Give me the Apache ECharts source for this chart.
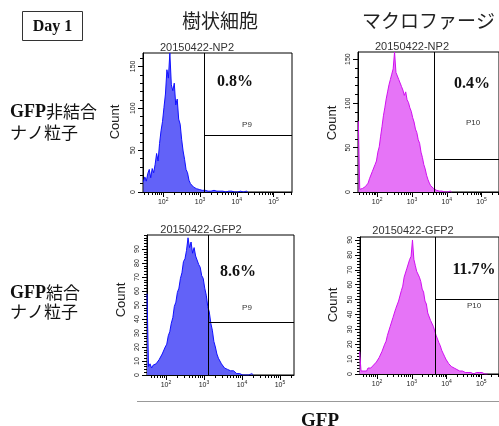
<!DOCTYPE html>
<html>
<head>
<meta charset="utf-8">
<script src="https://cdn.jsdelivr.net/npm/echarts@6/dist/echarts.min.js"></script>
<style>
  html, body { margin: 0; padding: 0; background: #fff; }
  #chart { width: 499px; height: 426px; }
</style>
</head>
<body>
<div id="chart"></div>
<script>
// histogram bins are in log10(GFP) units
const binStep = 0.04
const decades = [2, 3, 4, 5]

const dcNpStart = 1.46
const dcNpCounts = [12, 18, 13, 22, 27, 17, 28, 23, 33, 46, 37, 58, 73, 84, 101, 117, 146, 136, 166, 128,
  121, 130, 104, 111, 87, 81, 63, 49, 39, 27, 23, 14, 10, 8, 6, 5, 4, 4, 3, 3,
  2, 3, 2, 2, 1, 2, 1, 1, 2, 1, 1, 0, 1, 0, 1, 1, 0, 0, 1, 0, 1, 0, 0, 1, 0, 0, 1, 0, 0, 0, 1, 0]

const macNpStart = 1.46
const macNpCounts = [80, 3, 2, 4, 3, 6, 8, 10, 15, 17, 23, 25, 31, 35, 45, 51, 63, 74, 86, 95,
  105, 113, 121, 127, 133, 139, 158, 135, 136, 127, 126, 119, 115, 109, 113, 104, 101, 95, 91, 84,
  79, 71, 67, 59, 55, 45, 39, 31, 26, 19, 14, 10, 7, 5, 4, 3, 2, 3, 1, 2, 1, 1, 0, 1, 0, 0, 1, 0]

const dcGfpStart = 1.50
const dcGfpCounts = [58, 6, 8, 5, 7, 6, 8, 9, 11, 12, 15, 16, 20, 22, 28, 31, 37, 41, 49, 52,
  59, 62, 69, 73, 81, 83, 89, 98, 91, 95, 87, 91, 85, 84, 79, 77, 71, 69, 62, 57,
  49, 45, 37, 32, 24, 20, 15, 12, 10, 8, 7, 5, 4, 4, 3, 3, 2, 3, 2, 1, 2, 1, 1, 0, 1, 0, 1, 0, 0, 1, 0]

const macGfpStart = 1.50
const macGfpCounts = [15, 2, 3, 2, 3, 2, 4, 3, 4, 5, 6, 7, 8, 9, 11, 12, 15, 16, 20, 22,
  26, 27, 32, 33, 38, 39, 44, 45, 49, 50, 56, 59, 65, 66, 71, 72, 77, 79, 90, 77,
  73, 69, 69, 65, 62, 57, 55, 49, 47, 41, 40, 36, 35, 32, 31, 26, 25, 21, 19, 16,
  14, 12, 10, 9, 7, 6, 5, 5, 4, 4, 3, 3, 2, 3, 2, 2, 1, 2, 1, 1, 1, 1, 0, 1, 1, 0, 1, 0, 1, 0, 0, 1, 0]

const panelTitles = ['20150422-NP2', '20150422-NP2', '20150422-GFP2', '20150422-GFP2']
const gatePercents = ['0.8%', '0.4%', '8.6%', '11.7%']
const gateNames = ['P9', 'P10', 'P9', 'P10']
const gateX = [3.12, 3.63, 3.12, 3.67]
const gateY = [67.5, 36.5, 37.8, 50]
const countTicks = [
  [0, 50, 100, 150],
  [0, 50, 100, 150],
  [0, 10, 20, 30, 40, 50, 60, 70, 80, 90],
  [0, 10, 20, 30, 40, 50, 60, 70, 80, 90]
]

const blue = { line: '#1010ff', fill: '#6262f8' }
const magenta = { line: '#d010f0', fill: '#e674f7' }

const panels = [
  { left: 143, top: 53, width: 149, height: 139, xMin: 1.45, xMax: 5.5, yMax: 166, yMinor: 10,
    start: dcNpStart, counts: dcNpCounts, c: blue, title: [197, 48], pct: [235, 82], name: [247, 125], count: [115, 122] },
  { left: 358, top: 52, width: 150, height: 140, xMin: 1.45, xMax: 5.5, yMax: 158, yMinor: 10,
    start: macNpStart, counts: macNpCounts, c: magenta, title: [412, 47], pct: [472, 84], name: [473, 123], count: [332, 123] },
  { left: 147, top: 235, width: 147, height: 140, xMin: 1.5, xMax: 5.37, yMax: 100, yMinor: 2,
    start: dcGfpStart, counts: dcGfpCounts, c: blue, title: [201, 230], pct: [238, 272], name: [247, 308], count: [121, 300] },
  { left: 360, top: 237, width: 150, height: 137, xMin: 1.51, xMax: 5.51, yMax: 92, yMinor: 2,
    start: macGfpStart, counts: macGfpCounts, c: magenta, title: [413, 231], pct: [474, 270], name: [474, 306], count: [333, 305] }
]

const sans = '"Liberation Sans", Arial, sans-serif'
const serif = '"Liberation Serif", "Times New Roman", serif'
const cjk = '"Noto Sans CJK JP", sans-serif'

function minorLogTicks(min, max) {
  const out = []
  for (let n = 1; n <= 5; n++) {
    for (let k = 2; k <= 9; k++) {
      const v = n + Math.log10(k)
      if (v > min && v < max) out.push(v)
    }
  }
  return out
}

function stepTicks(max, step) {
  const out = []
  for (let v = 0; v <= max; v += step) out.push(v)
  return out
}

const blackLine = { color: '#000', width: 1 }
const grid = []
const xAxis = []
const yAxis = []
const series = []
const graphic = []

panels.forEach((p, i) => {
  grid.push({ left: p.left, top: p.top, width: p.width, height: p.height, show: true,
    borderColor: '#000', borderWidth: 1, backgroundColor: 'transparent' })

  xAxis.push({
    gridIndex: i, type: 'value', min: p.xMin, max: p.xMax, position: 'bottom',
    axisLine: { show: true, onZero: false, lineStyle: blackLine },
    axisTick: { show: true, length: 5, customValues: decades, lineStyle: blackLine },
    axisLabel: {
      customValues: decades, margin: 5,
      formatter: v => '{b|10}{s|' + v + '}',
      rich: {
        b: { fontSize: 7, fontFamily: sans, color: '#222' },
        s: { fontSize: 5, fontFamily: sans, color: '#222', verticalAlign: 'top', padding: [0, 0, 5, 0] }
      }
    },
    splitLine: { show: false }
  })
  xAxis.push({
    gridIndex: i, type: 'value', min: p.xMin, max: p.xMax, position: 'bottom',
    axisLine: { show: false },
    axisTick: { show: true, length: 3, customValues: minorLogTicks(p.xMin, p.xMax), lineStyle: blackLine },
    axisLabel: { show: false },
    splitLine: { show: false }
  })
  yAxis.push({
    gridIndex: i, type: 'value', min: 0, max: p.yMax, position: 'left',
    axisLine: { show: true, lineStyle: blackLine },
    axisTick: { show: true, length: 5, customValues: countTicks[i], lineStyle: blackLine },
    axisLabel: { customValues: countTicks[i], rotate: 90, fontSize: 7, fontFamily: sans, color: '#222', margin: 6 },
    splitLine: { show: false }
  })
  yAxis.push({
    gridIndex: i, type: 'value', min: 0, max: p.yMax, position: 'left',
    axisLine: { show: false },
    axisTick: { show: true, length: 3, customValues: stepTicks(p.yMax, p.yMinor), lineStyle: blackLine },
    axisLabel: { show: false },
    splitLine: { show: false }
  })

  series.push({
    type: 'line',
    xAxisIndex: 2 * i, yAxisIndex: 2 * i,
    data: p.counts.map((c, j) => [p.start + j * binStep, c]),
    symbol: 'none', showSymbol: false,
    lineStyle: { color: p.c.line, width: 1 },
    areaStyle: { color: p.c.fill, opacity: 1 },
    markLine: {
      silent: true, symbol: ['none', 'none'], label: { show: false },
      lineStyle: { color: '#000', width: 1, type: 'solid' },
      data: [
        [{ coord: [gateX[i], 0] }, { coord: [gateX[i], p.yMax] }],
        [{ coord: [gateX[i], gateY[i]] }, { coord: [p.xMax, gateY[i]] }]
      ]
    }
  })

  graphic.push(
    { type: 'text', x: p.title[0], y: p.title[1], style: { text: panelTitles[i], fill: '#333',
      font: '11px ' + sans, align: 'center', verticalAlign: 'middle', textAlign: 'center', textVerticalAlign: 'middle' } },
    { type: 'text', x: p.pct[0], y: p.pct[1], style: { text: gatePercents[i], fill: '#111',
      font: 'bold 16px ' + serif, align: 'center', verticalAlign: 'middle', textAlign: 'center', textVerticalAlign: 'middle' } },
    { type: 'text', x: p.name[0], y: p.name[1], style: { text: gateNames[i], fill: '#333',
      font: '8px ' + sans, align: 'center', verticalAlign: 'middle', textAlign: 'center', textVerticalAlign: 'middle' } },
    { type: 'text', x: p.count[0], y: p.count[1], rotation: Math.PI / 2, style: { text: 'Count', fill: '#222',
      font: '13px ' + sans, align: 'center', verticalAlign: 'middle', textAlign: 'center', textVerticalAlign: 'middle' } }
  )
})

// figure labels round the panels
graphic.push(
  { type: 'rect', shape: { x: 22.5, y: 11.5, width: 60, height: 29 }, style: { fill: '#fff', stroke: '#333', lineWidth: 1 } },
  { type: 'text', x: 52.5, y: 27, style: { text: 'Day 1', fill: '#111', font: 'bold 16px ' + serif,
    align: 'center', verticalAlign: 'middle', textAlign: 'center', textVerticalAlign: 'middle' } },
  { type: 'text', x: 182, y: 21, style: { text: '樹状細胞', fill: '#222', font: '19px ' + cjk,
    align: 'left', verticalAlign: 'middle', textAlign: 'left', textVerticalAlign: 'middle' } },
  { type: 'text', x: 362, y: 21, style: { text: 'マクロファージ', fill: '#222', font: '19px ' + cjk,
    align: 'left', verticalAlign: 'middle', textAlign: 'left', textVerticalAlign: 'middle' } },
  { type: 'text', x: 10, y: 112, style: { text: '{g|GFP}{j|非結合}', align: 'left', verticalAlign: 'middle',
    textAlign: 'left', textVerticalAlign: 'middle',
    rich: { g: { fontFamily: serif, fontWeight: 'bold', fontSize: 18, fill: '#111' },
            j: { fontFamily: cjk, fontSize: 17, fill: '#111' } } } },
  { type: 'text', x: 10, y: 133, style: { text: 'ナノ粒子', fill: '#111', font: '17px ' + cjk,
    align: 'left', verticalAlign: 'middle', textAlign: 'left', textVerticalAlign: 'middle' } },
  { type: 'text', x: 10, y: 293, style: { text: '{g|GFP}{j|結合}', align: 'left', verticalAlign: 'middle',
    textAlign: 'left', textVerticalAlign: 'middle',
    rich: { g: { fontFamily: serif, fontWeight: 'bold', fontSize: 18, fill: '#111' },
            j: { fontFamily: cjk, fontSize: 17, fill: '#111' } } } },
  { type: 'text', x: 10, y: 312, style: { text: 'ナノ粒子', fill: '#111', font: '17px ' + cjk,
    align: 'left', verticalAlign: 'middle', textAlign: 'left', textVerticalAlign: 'middle' } },
  { type: 'line', shape: { x1: 137, y1: 401.5, x2: 499, y2: 401.5 }, style: { stroke: '#999', lineWidth: 1 } },
  { type: 'text', x: 320, y: 421, style: { text: 'GFP', fill: '#111', font: 'bold 19px ' + serif,
    align: 'center', verticalAlign: 'middle', textAlign: 'center', textVerticalAlign: 'middle' } }
)

const chart = echarts.init(document.getElementById('chart'), null, { renderer: 'canvas' })
chart.setOption({
  animation: false,
  backgroundColor: '#fff',
  grid: grid,
  xAxis: xAxis,
  yAxis: yAxis,
  series: series,
  graphic: graphic
})
</script>
</body>
</html>
